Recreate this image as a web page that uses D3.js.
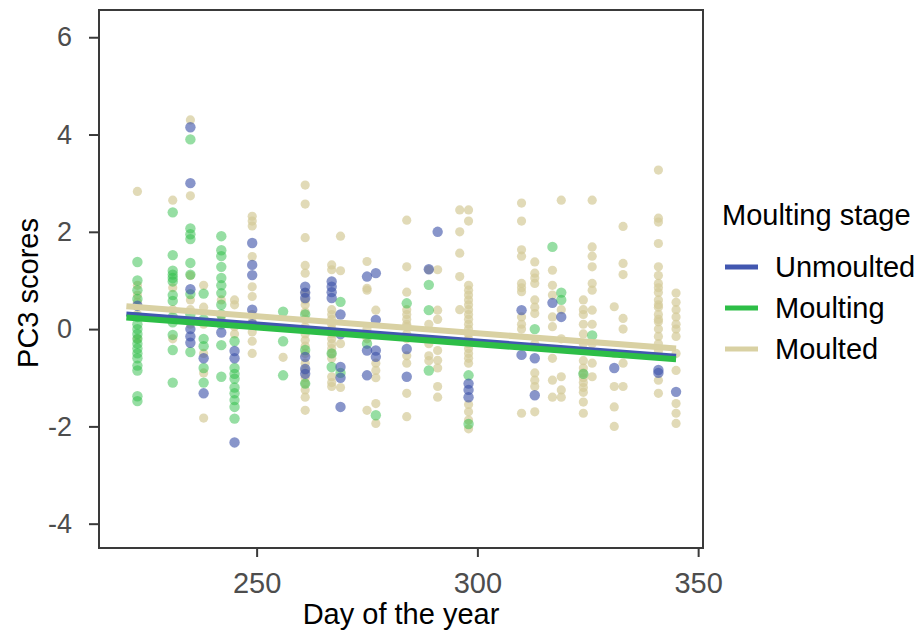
<!DOCTYPE html>
<html>
<head>
<meta charset="utf-8">
<script src="https://cdn.jsdelivr.net/npm/d3@7"></script>
<style>
  html, body { margin: 0; padding: 0; background: #fff; }
  svg { display: block; font-family: "Liberation Sans", Arial, sans-serif; }
  .title { fill: #000; font-size: 29px; }
</style>
</head>
<body>
<svg id="chart" width="922" height="642"></svg>
<script>
// PC3 scores, grouped by sampling day: [day, [values]]
const unmoulted = [
  [223, [0.48]],
  [235, [4.15, 3.0, 0.82, 0.0, -0.15, -0.28]],
  [238, [-0.6, -1.32]],
  [242, [-0.07]],
  [245, [-0.45, -0.6, -2.33]],
  [249, [1.77, 1.32, 1.11, 0.4, 0.1]],
  [261, [0.87, 0.75, 0.64, -0.57, -0.82, -0.92]],
  [267, [0.98, 0.87, 0.76, 0.64]],
  [269, [0.3, -0.1, -0.78, -1.0, -1.6]],
  [275, [1.08, -0.44, -0.95]],
  [277, [1.15, 0.19, -0.44, -0.57]],
  [284, [-0.41, -0.98]],
  [289, [1.23]],
  [291, [2.0]],
  [298, [-1.12, -1.25, -1.4]],
  [310, [0.39, -0.53]],
  [313, [-0.6, -1.36]],
  [317, [0.54]],
  [319, [0.25]],
  [331, [-0.8]],
  [341, [-0.84, -0.9]],
  [345, [-1.29]]
];

const moulting = [
  [223, [1.38, 1.0, 0.8, 0.62, 0.25, 0.1, 0.0, -0.1, -0.2, -0.3, -0.4, -0.5, -0.6, -0.75, -0.85, -1.38, -1.48]],
  [231, [2.4, 1.52, 1.2, 1.12, 1.05, 0.98, 0.7, 0.58, 0.25, 0.14, -0.12, -0.43, -1.1]],
  [235, [3.9, 2.07, 1.95, 1.85, 1.36, 1.12, 0.72, 0.3, -0.47]],
  [238, [0.73, 0.2, -0.2, -0.35, -0.8, -1.1]],
  [242, [1.91, 1.62, 1.5, 1.28, 1.05, 0.9, 0.74, 0.5, 0.3, 0.1, -0.33, -0.98]],
  [245, [-0.25, -0.8, -0.92, -1.02, -1.2, -1.32, -1.46, -1.6, -1.84]],
  [256, [0.36, -0.25, -0.95]],
  [261, [0.3, -0.43, -1.12]],
  [267, [-0.5, -0.78]],
  [269, [0.56, -0.9]],
  [275, [-0.3]],
  [277, [-1.77]],
  [284, [0.53]],
  [289, [0.91, 0.39, -0.85]],
  [298, [-0.95, -1.95]],
  [313, [0.0]],
  [317, [1.69]],
  [319, [0.75, 0.6]],
  [324, [-0.92]],
  [326, [-0.13]]
];

const moulted = [
  [223, [2.83, 0.9, 0.7, 0.55, 0.3, -0.2]],
  [231, [2.65, 0.85, 0.4, -0.2]],
  [235, [4.3, 2.74, 1.1, 0.6, 0.4, 0.1]],
  [238, [0.9, 0.45, 0.1, -0.5, -0.9, -1.83]],
  [242, [0.6, 0.2]],
  [245, [0.6, 0.5, 0.05, -0.1]],
  [249, [2.32, 2.22, 2.12, 1.49, 0.87, 0.67, 0.3, 0.15, -0.06, -0.25, -0.5]],
  [256, [-0.58]],
  [261, [2.96, 2.57, 1.88, 1.31, 1.15, 0.75, 0.6, 0.5, 0.35, 0.2, 0.05, -0.1, -0.23, -0.35, -0.5, -0.7, -0.85, -1.0, -1.12, -1.25, -1.4, -1.67]],
  [267, [1.32, 1.22, 0.4, 0.3, 0.2, 0.1, 0.0, -0.1, -0.2, -0.3, -0.4, -0.5, -0.6, -0.98, -1.1, -1.18]],
  [269, [1.91, 1.2, -0.3, -1.2]],
  [275, [1.39, 0.84, 0.8, 0.0, -0.2, -1.67]],
  [277, [0.39, -0.7, -0.85, -1.0, -1.53, -1.94]],
  [284, [2.24, 1.28, 0.76, 0.4, 0.3, 0.2, 0.1, 0.05, -0.1, -0.2, -0.55, -0.7, -1.32, -1.8]],
  [289, [1.22, 0.1, -0.3, -0.55, -0.65]],
  [291, [1.22, 0.39, 0.2, -0.44, -0.64, -0.8, -1.18, -1.4]],
  [296, [2.45, 2.0, 1.56, 1.08, 0.4]],
  [298, [2.45, 2.22, 0.9, 0.8, 0.7, 0.6, 0.5, 0.4, 0.3, 0.2, 0.1, 0.0, -0.1, -0.2, -0.3, -0.4, -0.5, -0.6, -0.7, -1.55, -1.7, -1.87, -2.05]],
  [310, [2.59, 2.22, 1.63, 1.5, 0.94, 0.85, 0.77, 0.25, 0.1, 0.0, -1.73]],
  [313, [1.38, 1.15, 1.05, 0.94, 0.6, 0.45, 0.32, -0.3, -0.9, -1.05, -1.18, -1.7]],
  [317, [1.21, 0.9, 0.7, 0.25, 0.05, -0.6, -1.05, -1.4]],
  [319, [2.65, 0.4, -0.2, -0.98, -1.25, -1.4]],
  [324, [0.6, 0.4, 0.3, 0.1, -0.1, -0.3, -0.65, -0.8, -0.9, -1.0, -1.1, -1.2, -1.3, -1.5, -1.73]],
  [326, [2.65, 1.69, 1.5, 1.28, 0.94, 0.8, 0.39, 0.1, -0.3, -0.7, -0.98]],
  [331, [0.46, -0.5, -1.18, -1.6, -2.0]],
  [333, [2.11, 1.35, 1.12, 0.22, 0.0, -0.7, -1.18]],
  [341, [3.27, 2.28, 2.2, 1.76, 1.28, 1.1, 0.94, 0.85, 0.75, 0.6, 0.5, 0.45, 0.3, 0.2, 0.15, 0.0, -0.15, -0.3, -0.45, -1.05, -1.32]],
  [345, [0.74, 0.55, 0.4, 0.25, 0.1, 0.0, -0.15, -0.5, -0.85, -1.53, -1.73, -1.94]]
];

// linear fits (value at first and last day)
const fitDays = [220.5, 345];
const fitUnmoulted = [0.31, -0.56];
const fitMoulting = [0.24, -0.62];
const fitMoulted = [0.47, -0.40];

const xTicks = [250, 300, 350];
const yTicks = [-4, -2, 0, 2, 4, 6];
const stages = ['Unmoulted', 'Moulting', 'Moulted'];

const COLORS = { Unmoulted: '#4257B0', Moulting: '#2DBE47', Moulted: '#D9D1A3' };
const POINT_COLORS = { Unmoulted: '#3F54AA', Moulting: '#2DBE47', Moulted: '#D4CA98' };

const panel = { left: 99, right: 703, top: 10, bottom: 548 };

const svg = d3.select('#chart');
const x = d3.scaleLinear().domain([214.3, 351.1]).range([panel.left, panel.right]);
const y = d3.scaleLinear().domain([-4.5, 6.56]).range([panel.bottom, panel.top]);

function flatten(cols, stage) {
  return cols.flatMap(([day, vals]) => vals.map(v => ({ day, v, stage })));
}

// points: moulted behind, then moulting, then unmoulted
const layers = [
  { stage: 'Moulted', data: flatten(moulted, 'Moulted'), r: 4.6, op: 0.7 },
  { stage: 'Moulting', data: flatten(moulting, 'Moulting'), r: 5.2, op: 0.5 },
  { stage: 'Unmoulted', data: flatten(unmoulted, 'Unmoulted'), r: 5.2, op: 0.62 },
];

const gPts = svg.append('g');
layers.forEach(l => {
  gPts.append('g')
    .selectAll('circle')
    .data(l.data)
    .join('circle')
    .attr('cx', d => x(d.day))
    .attr('cy', d => y(d.v))
    .attr('r', l.r)
    .attr('fill', POINT_COLORS[l.stage])
    .attr('fill-opacity', l.op);
});

// fitted lines
const fits = [
  { stage: 'Moulted', vals: fitMoulted, w: 6 },
  { stage: 'Unmoulted', vals: fitUnmoulted, w: 5 },
  { stage: 'Moulting', vals: fitMoulting, w: 6 },
];
const line = d3.line().x(d => x(d[0])).y(d => y(d[1]));
fits.forEach(f => {
  svg.append('path')
    .attr('d', line(fitDays.map((d, i) => [d, f.vals[i]])))
    .attr('stroke', COLORS[f.stage])
    .attr('stroke-width', f.w)
    .attr('fill', 'none');
});

// panel border
svg.append('rect')
  .attr('x', panel.left).attr('y', panel.top)
  .attr('width', panel.right - panel.left)
  .attr('height', panel.bottom - panel.top)
  .attr('fill', 'none')
  .attr('stroke', '#3a3a3a')
  .attr('stroke-width', 2);

// axes
const xAxis = svg.append('g')
  .attr('transform', `translate(0,${panel.bottom})`)
  .call(d3.axisBottom(x).tickValues(xTicks).tickSize(9).tickPadding(15));
const yAxis = svg.append('g')
  .attr('transform', `translate(${panel.left},0)`)
  .call(d3.axisLeft(y).tickValues(yTicks).tickSize(10).tickPadding(17)
    .tickFormat(d => d < 0 ? '-' + Math.abs(d) : d));

[xAxis, yAxis].forEach(a => {
  a.select('.domain').remove();
  a.selectAll('.tick line').attr('stroke', '#3a3a3a').attr('stroke-width', 2);
  a.selectAll('.tick text').attr('fill', '#4d4d4d')
    .style('font-family', '"Liberation Sans", Arial, sans-serif');
});
xAxis.selectAll('.tick text').style('font-size', '29px');
yAxis.selectAll('.tick text').style('font-size', '27px');

// axis titles
svg.append('text')
  .attr('class', 'title')
  .attr('x', (panel.left + panel.right) / 2)
  .attr('y', 624)
  .attr('text-anchor', 'middle')
  .text('Day of the year');

svg.append('text')
  .attr('class', 'title')
  .attr('transform', 'translate(38,293) rotate(-90)')
  .attr('text-anchor', 'middle')
  .text('PC3 scores');

// legend
const legend = svg.append('g');
legend.append('text')
  .attr('class', 'title')
  .attr('x', 722).attr('y', 225)
  .text('Moulting stage');

stages.forEach((s, i) => {
  const ly = 267 + i * 41;
  legend.append('line')
    .attr('x1', 725).attr('x2', 758)
    .attr('y1', ly).attr('y2', ly)
    .attr('stroke', COLORS[s])
    .attr('stroke-width', 5);
  legend.append('text')
    .attr('class', 'title')
    .attr('x', 775).attr('y', ly + 10)
    .text(s);
});
</script>
</body>
</html>
